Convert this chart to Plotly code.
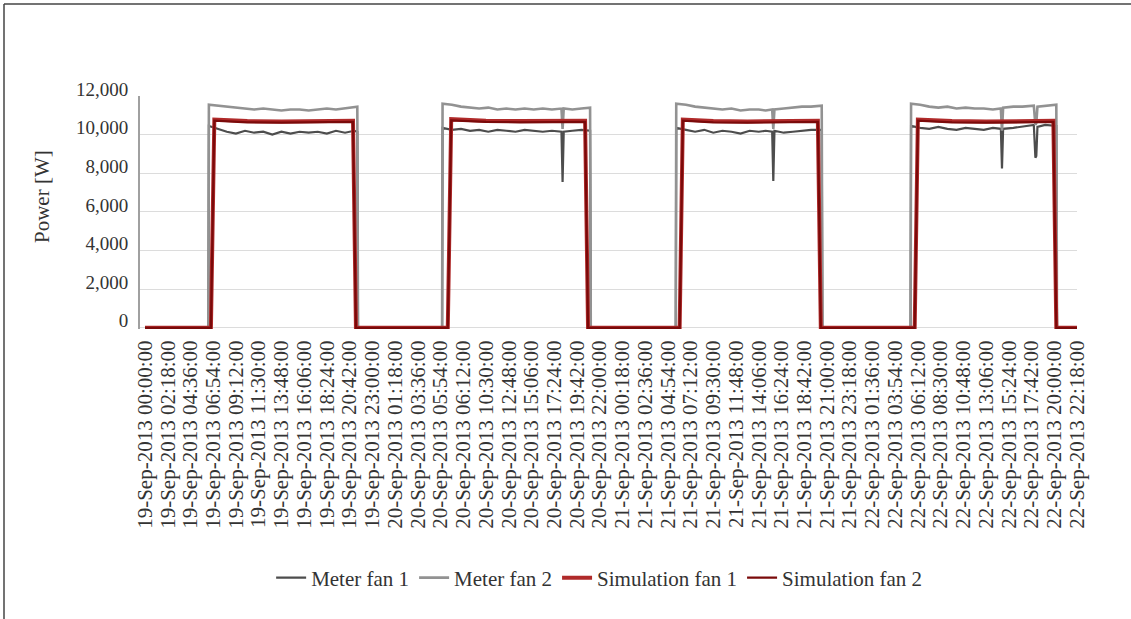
import plotly.graph_objects as go

# ---------------- data ----------------
tick_labels = [
    "19-Sep-2013 00:00:00", "19-Sep-2013 02:18:00", "19-Sep-2013 04:36:00", "19-Sep-2013 06:54:00",
    "19-Sep-2013 09:12:00", "19-Sep-2013 11:30:00", "19-Sep-2013 13:48:00", "19-Sep-2013 16:06:00",
    "19-Sep-2013 18:24:00", "19-Sep-2013 20:42:00", "19-Sep-2013 23:00:00", "20-Sep-2013 01:18:00",
    "20-Sep-2013 03:36:00", "20-Sep-2013 05:54:00", "20-Sep-2013 06:12:00", "20-Sep-2013 10:30:00",
    "20-Sep-2013 12:48:00", "20-Sep-2013 15:06:00", "20-Sep-2013 17:24:00", "20-Sep-2013 19:42:00",
    "20-Sep-2013 22:00:00", "21-Sep-2013 00:18:00", "21-Sep-2013 02:36:00", "21-Sep-2013 04:54:00",
    "21-Sep-2013 07:12:00", "21-Sep-2013 09:30:00", "21-Sep-2013 11:48:00", "21-Sep-2013 14:06:00",
    "21-Sep-2013 16:24:00", "21-Sep-2013 18:42:00", "21-Sep-2013 21:00:00", "21-Sep-2013 23:18:00",
    "22-Sep-2013 01:36:00", "22-Sep-2013 03:54:00", "22-Sep-2013 06:12:00", "22-Sep-2013 08:30:00",
    "22-Sep-2013 10:48:00", "22-Sep-2013 13:06:00", "22-Sep-2013 15:24:00", "22-Sep-2013 17:42:00",
    "22-Sep-2013 20:00:00", "22-Sep-2013 22:18:00",
]
tick_positions = list(range(len(tick_labels)))

# positions along the category axis (label index units)
meter_x = [
    0, 2.79,
    2.81, 3.2, 3.6, 4.0, 4.4, 4.8, 5.2, 5.6, 6.0, 6.4, 6.8, 7.2, 7.6, 8.0, 8.4, 8.8, 9.2, 9.34,
    9.37, 13.07,
    13.09, 13.5, 13.9, 14.3, 14.7, 15.1, 15.5, 15.9, 16.3, 16.7, 17.1, 17.5, 17.9, 18.32, 18.37, 18.42, 18.8, 19.2, 19.58,
    19.61, 23.35,
    23.37, 23.8, 24.2, 24.6, 25.0, 25.4, 25.8, 26.2, 26.6, 27.0, 27.3, 27.59, 27.64, 27.69, 28.1, 28.5, 28.9, 29.3, 29.77,
    29.80, 33.68,
    33.70, 34.1, 34.5, 34.9, 35.3, 35.7, 36.1, 36.5, 36.9, 37.3, 37.65, 37.70, 37.75, 38.2, 38.6, 39.1, 39.17, 39.21, 39.26, 39.6, 40.09,
    40.12, 41.0,
]
meter_fan1 = [
    0, 0,
    10450, 10300, 10150, 10050, 10200, 10100, 10150, 10000, 10150, 10050, 10150, 10100, 10150, 10050, 10200, 10100, 10200, 10150,
    0, 0,
    10350, 10250, 10300, 10200, 10250, 10150, 10250, 10200, 10150, 10250, 10200, 10150, 10200, 10150, 7550, 10150, 10200, 10250, 10200,
    0, 0,
    10350, 10250, 10150, 10250, 10100, 10200, 10150, 10050, 10200, 10150, 10200, 10150, 7600, 10200, 10100, 10150, 10200, 10250, 10250,
    0, 0,
    10450, 10350, 10300, 10400, 10300, 10250, 10350, 10300, 10250, 10350, 10300, 8250, 10300, 10350, 10400, 10500, 8800, 8900, 10400, 10500, 10450,
    0, 0,
]
meter_fan2 = [
    0, 0,
    11550, 11500, 11450, 11400, 11350, 11300, 11350, 11300, 11250, 11300, 11300, 11250, 11300, 11350, 11300, 11350, 11400, 11450,
    0, 0,
    11600, 11550, 11450, 11400, 11350, 11400, 11300, 11350, 11300, 11350, 11300, 11350, 11300, 11350, 10300, 11350, 11300, 11350, 11400,
    0, 0,
    11600, 11550, 11450, 11400, 11350, 11300, 11350, 11250, 11300, 11300, 11250, 11300, 10300, 11300, 11350, 11400, 11450, 11450, 11500,
    0, 0,
    11600, 11550, 11450, 11400, 11450, 11350, 11400, 11350, 11350, 11300, 11350, 10200, 11400, 11450, 11450, 11500, 10500, 10600, 11450, 11500, 11550,
    0, 0,
]

sim_x = [
    0, 2.90, 3.05, 4.5, 6.0, 7.5, 9.15, 9.28,
    13.32, 13.47, 15.0, 16.5, 18.0, 19.36, 19.49,
    23.52, 23.66, 25.0, 26.5, 28.0, 29.60, 29.73,
    33.86, 34.0, 35.5, 37.0, 38.5, 39.96, 40.09, 41.0,
]
sim_fan1 = [
    0, 0, 10780, 10700, 10680, 10700, 10720, 0,
    0, 10800, 10720, 10700, 10700, 10720, 0,
    0, 10780, 10700, 10680, 10700, 10720, 0,
    0, 10780, 10700, 10680, 10700, 10720, 0, 0,
]
sim_fan2 = [
    0, 0, 10720, 10640, 10620, 10650, 10660, 0,
    0, 10740, 10660, 10640, 10650, 10660, 0,
    0, 10720, 10640, 10620, 10650, 10660, 0,
    0, 10720, 10640, 10620, 10650, 10660, 0, 0,
]

y_ticks = [0, 2000, 4000, 6000, 8000, 10000, 12000]

# ---------------- figure ----------------
FONT = "Liberation Serif, Times New Roman, serif"
W, H = 1131, 619
ML, MR, MT, MB = 140, 54, 96, 290

fig = go.Figure()
fig.add_trace(go.Scatter(x=meter_x, y=meter_fan1, name="Meter fan 1", mode="lines",
                         line=dict(color="#4d4d4d", width=2.2)))
fig.add_trace(go.Scatter(x=meter_x, y=meter_fan2, name="Meter fan 2", mode="lines",
                         line=dict(color="#929292", width=2.6)))
fig.add_trace(go.Scatter(x=sim_x, y=sim_fan1, name="Simulation fan 1", mode="lines",
                         line=dict(color="#b02a2a", width=4)))
fig.add_trace(go.Scatter(x=sim_x, y=sim_fan2, name="Simulation fan 2", mode="lines",
                         line=dict(color="#7a0a0a", width=2.2)))

pw = W - ML - MR
ph = H - MT - MB
px_x = lambda p: (p - ML) / pw
px_y = lambda p: 1 - (p - MT) / ph

fig.update_layout(
    width=W, height=H,
    margin=dict(l=ML, r=MR, t=MT, b=MB),
    paper_bgcolor="white", plot_bgcolor="white",
    font=dict(family=FONT, size=19, color="#333333"),
    showlegend=True,
    legend=dict(orientation="h", x=0.49, xanchor="center", y=px_y(578), yanchor="middle",
                font=dict(family=FONT, size=21, color="#333333"), bgcolor="rgba(0,0,0,0)",
                itemwidth=30),
    xaxis=dict(
        range=[-0.22, 41.0], tickmode="array", tickvals=tick_positions, ticktext=tick_labels,
        tickangle=-90, showgrid=False, zeroline=False, showline=False,
        ticks="outside", ticklen=2, tickcolor="rgba(0,0,0,0)",
        tickfont=dict(family=FONT, size=21, color="#333333"),
    ),
    yaxis=dict(
        range=[-60, 12000], tickmode="array", tickvals=y_ticks, tickformat=",",
        showgrid=True, gridcolor="#dcdcdc", gridwidth=1.3, zeroline=False,
        showline=True, linecolor="#a0a0a0", linewidth=2,
        ticks="outside", ticklen=6, tickcolor="rgba(0,0,0,0)",
        ticklabelshift=-7,
        tickfont=dict(family=FONT, size=19, color="#333333"),
    ),
    annotations=[
        dict(text="Power [W]", xref="paper", yref="paper", x=px_x(42), y=px_y(197),
             xanchor="center", yanchor="middle", textangle=-90, showarrow=False,
             font=dict(family=FONT, size=21, color="#333333")),
    ],
    shapes=[
        dict(type="line", xref="paper", yref="paper", x0=px_x(4), x1=px_x(4), y0=px_y(4), y1=px_y(619),
             line=dict(color="#444444", width=1.5)),
        dict(type="line", xref="paper", yref="paper", x0=px_x(4), x1=px_x(1131), y0=px_y(4), y1=px_y(4),
             line=dict(color="#444444", width=1.5)),
    ],
)

fig.write_html("out.html", config={"displayModeBar": False},
               post_script="document.body.style.margin='0';document.body.style.overflow='hidden';")
